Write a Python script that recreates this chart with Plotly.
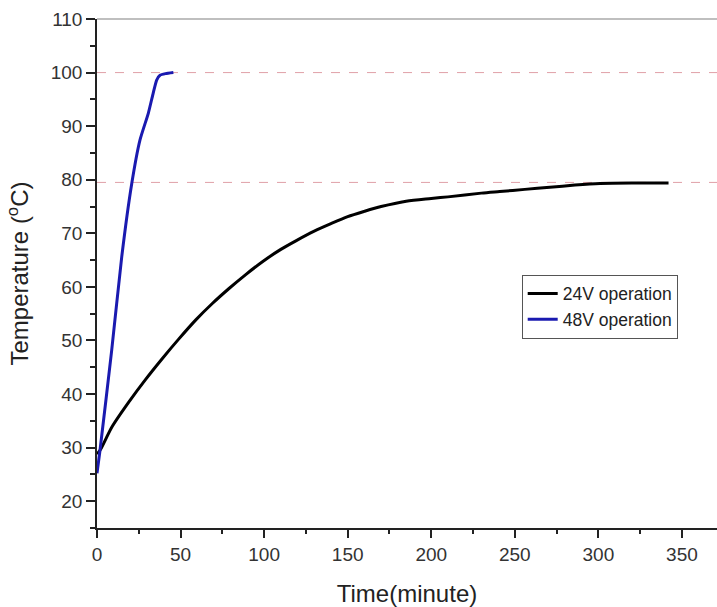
import plotly.graph_objects as go

# 24V operation (time in minutes, temperature in °C)
t_24v = [0, 2, 9, 19, 29, 39, 49, 59, 69, 79, 89, 99, 110, 119, 130, 140, 150,
         160, 170, 185, 200, 210, 230, 241, 256, 271, 286, 301, 320, 342]
temp_24v = [28.8, 29.6, 33.9, 38.5, 42.7, 46.6, 50.3, 53.8, 56.9, 59.7, 62.3, 64.7,
            67.0, 68.6, 70.4, 71.8, 73.1, 74.1, 75.0, 76.0, 76.5, 76.8, 77.5, 77.8,
            78.2, 78.6, 79.0, 79.3, 79.4, 79.4]

# 48V operation
t_48v = [0, 1.8, 8.8, 14.8, 20.8, 25.7, 30.7, 33.5, 35.7, 37.7, 41, 45.7]
temp_48v = [25.2, 29.5, 48.2, 65.6, 79.3, 87.4, 92.4, 96.0, 98.6, 99.5, 99.8, 100.0]

# dashed reference levels
reference_levels = [100, 79.5]

x_ticks = [0, 50, 100, 150, 200, 250, 300, 350]
y_ticks = [20, 30, 40, 50, 60, 70, 80, 90, 100, 110]

font_family = "Liberation Sans, Arial, sans-serif"

fig = go.Figure()
fig.add_trace(go.Scatter(x=t_24v, y=temp_24v, mode="lines", name="24V operation",
                         line=dict(color="#000000", width=3, shape="spline", smoothing=0.8)))
fig.add_trace(go.Scatter(x=t_48v, y=temp_48v, mode="lines", name="48V operation",
                         line=dict(color="#1a1ab0", width=3, shape="spline", smoothing=0.5)))

shapes = []
for lvl in reference_levels:
    shapes.append(dict(type="line", xref="paper", yref="y", x0=0, x1=1, y0=lvl, y1=lvl,
                       line=dict(color="#e0a0a8", width=1, dash="dash"), layer="below"))
# top frame line
shapes.append(dict(type="line", xref="paper", yref="paper", x0=0, x1=1, y0=1, y1=1,
                   line=dict(color="#808080", width=1.2)))

fig.update_layout(
    width=717, height=607,
    margin=dict(l=97, r=0, t=19, b=79, autoexpand=False),
    plot_bgcolor="white", paper_bgcolor="white",
    font=dict(family=font_family, color="#333333"),
    showlegend=True,
    legend=dict(x=0.685, y=0.498, xanchor="left", yanchor="top",
                bgcolor="white", bordercolor="#555555", borderwidth=1,
                font=dict(size=17.5, color="#222222"), tracegroupgap=0,
                itemwidth=30),
    shapes=shapes,
)

fig.update_xaxes(
    range=[0, 371], tickvals=x_ticks, showgrid=False, zeroline=False, automargin=False,
    showline=True, linecolor="#222222", linewidth=1.5,
    ticks="outside", ticklen=8, tickwidth=1.5, tickcolor="#222222",
    tickfont=dict(size=19, color="#333333"),
    minor=dict(ticks="outside", ticklen=4, tickwidth=1.5, tickcolor="#222222", dtick=25, tick0=0),
    title=dict(text="Time(minute)", font=dict(size=24, color="#222222"), standoff=24),
)
fig.update_yaxes(
    range=[15, 110], tickvals=y_ticks, showgrid=False, zeroline=False, automargin=False,
    showline=True, linecolor="#222222", linewidth=1.5,
    ticks="outside", ticklen=9, tickwidth=1.5, tickcolor="#222222",
    tickfont=dict(size=19, color="#333333"),
    minor=dict(ticks="outside", ticklen=5, tickwidth=1.5, tickcolor="#222222", dtick=5, tick0=15),
    title=dict(text="Temperature (<sup>o</sup>C)", font=dict(size=24, color="#222222"), standoff=15),
)

fig.write_html("out.html", config={"displayModeBar": False},
               post_script="document.body.style.margin='0px';")
